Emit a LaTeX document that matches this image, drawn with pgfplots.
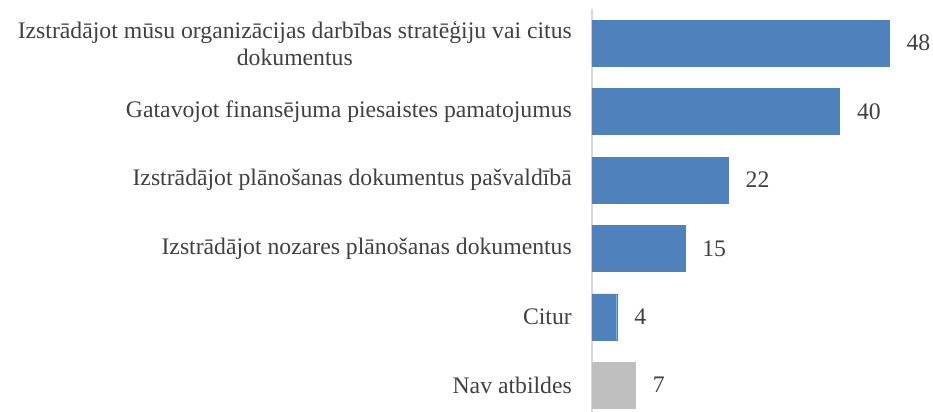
\documentclass[border=0pt]{standalone}
\usepackage{pgfplots}
\pgfplotsset{compat=1.18}
\usepackage{fontspec}
\setmainfont{Liberation Serif}
\definecolor{barblue}{HTML}{4F81BD}
\definecolor{bargray}{HTML}{BFBFBF}
\definecolor{txt}{HTML}{404040}
\definecolor{axgray}{HTML}{D9D9D9}
\begin{document}
\begin{tikzpicture}[x=1bp,y=1bp]
\begin{axis}[
  at={(0,0)}, anchor=south west,
  scale only axis,
  width=341bp, height=410.4bp,
  xbar, bar width=46bp, bar shift=0pt,
  xmin=0, xmax=55.1,
  ymin=-0.5, ymax=5.5,
  y dir=reverse,
  axis x line=none,
  axis y line*=left,
  y axis line style={draw=axgray, line width=1.2pt},
  ytick={0,1,2,3,4,5},
  yticklabels={{Izstrādājot mūsu organizācijas darbības stratēģiju vai citus\\dokumentus},
               {Gatavojot finansējuma piesaistes pamatojumus},
               {Izstrādājot plānošanas dokumentus pašvaldībā},
               {Izstrādājot nozares plānošanas dokumentus},
               {Citur},
               {Nav atbildes}},
  yticklabel style={align=center, font=\fontsize{23.8}{27}\selectfont, text=txt, inner sep=0pt, xshift=-20bp},
  major tick length=0pt,
  /pgf/number format/assume math mode=true,
  nodes near coords,
  every node near coord/.append style={font=\fontsize{23.8}{27}\selectfont, text=txt, xshift=14bp},
  clip=false,
]
\addplot[fill=barblue, draw=barblue] coordinates {(48,0) (40,1) (22,2) (15,3) (4,4)};
\addplot[fill=bargray, draw=bargray] coordinates {(7,5)};
\end{axis}
\pgfresetboundingbox
\path (-592bp,7.4bp) rectangle (341bp,419.4bp);
\end{tikzpicture}
\end{document}
